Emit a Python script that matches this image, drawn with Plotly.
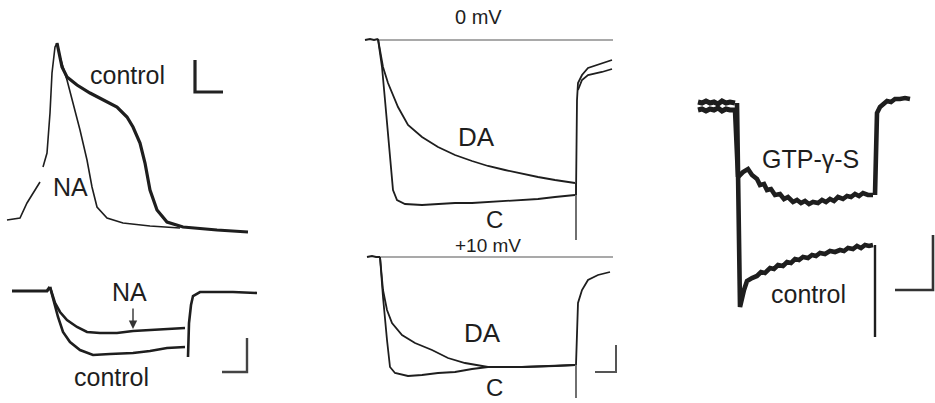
import plotly.graph_objects as go

INK = "#1e1e1e"

# ---------- Panel A: action potentials (top-left) ----------
ap_foot_x = [7, 20, 27, 33, 40, None, 43, 47, 50, 52, 55, 57]
ap_foot_y = [220, 218, 203, 193, 182, None, 167, 153, 113, 73, 47, 43]
ap_control_x = [57, 62, 67, 77, 90, 103, 117, 127, 133, 140, 145, 150, 157, 167, 183, 217, 248]
ap_control_y = [43, 67, 77, 85, 93, 100, 107, 117, 127, 143, 163, 190, 210, 222, 227, 230, 232]
ap_na_x = [57, 60, 67, 73, 80, 87, 92, 97, 107, 123, 150, 180]
ap_na_y = [43, 57, 80, 103, 130, 160, 187, 207, 218, 223, 226, 228]

# ---------- Panel B: currents (bottom-left) ----------
b_base_x = [12, 30, 47, 50]
b_base_y = [291, 291, 291, 287]
b_na_x = [50, 55, 60, 67, 77, 87, 100, 117, 133, 150, 167, 185]
b_na_y = [287, 303, 312, 320, 327, 332, 333, 333, 331, 330, 329, 328]
b_ctl_x = [50, 55, 58, 63, 70, 80, 93, 110, 133, 150, 167, 185]
b_ctl_y = [287, 305, 317, 332, 342, 350, 355, 354, 353, 351, 348, 347]
b_ret_x = [188, 189, 191, 193, 200, 217, 233, 257]
b_ret_y = [357, 323, 305, 296, 292, 292, 292, 293]

# ---------- Panel C: 0 mV (middle-top) ----------
c_ref_x = [377, 613]
c_ref_y = [40, 40]
c_base_x = [365, 370, 374, 378]
c_base_y = [40, 39, 40, 39]
c_c_x = [378, 382, 385, 388, 391, 393, 397, 405, 422, 438, 455, 472, 488, 505, 522, 538, 555, 575]
c_c_y = [39, 67, 100, 133, 167, 190, 200, 204, 205, 204, 203, 203, 202, 201, 200, 199, 197, 195]
c_da_x = [378, 383, 388, 398, 408, 422, 438, 455, 472, 488, 505, 522, 538, 555, 575]
c_da_y = [39, 67, 83, 107, 125, 137, 147, 155, 161, 166, 170, 174, 177, 180, 183]
c_step_x = [576, 576]
c_step_y = [183, 240]
c_ret1_x = [576, 577, 578, 582, 588, 602, 612]
c_ret1_y = [195, 100, 83, 75, 68, 63, 60]
c_ret2_x = [578, 582, 588, 602, 612]
c_ret2_y = [90, 80, 75, 72, 69]

# ---------- Panel D: +10 mV (middle-bottom) ----------
d_ref_x = [377, 613]
d_ref_y = [257, 257]
d_base_x = [367, 372, 376, 380]
d_base_y = [257, 256, 257, 257]
d_c_x = [380, 383, 387, 390, 395, 408, 422, 438, 455, 472, 488, 522, 555, 575]
d_c_y = [257, 297, 340, 367, 373, 376, 375, 373, 372, 369, 367, 367, 366, 365]
d_da_x = [380, 383, 387, 392, 402, 415, 432, 448, 465, 488, 522, 555, 575]
d_da_y = [257, 290, 310, 323, 335, 343, 350, 358, 363, 367, 367, 366, 365]
d_step_x = [576, 576]
d_step_y = [365, 398]
d_ret_x = [576, 577, 578, 582, 588, 598, 610]
d_ret_y = [365, 323, 303, 290, 280, 275, 272]

# ---------- Panel E: GTP-γ-S (right) ----------
e_base1_x = [698, 702, 706, 710, 714, 718, 722, 726, 730, 735]
e_base1_y = [102, 103, 101, 103, 102, 104, 101, 103, 102, 103]
e_base2_x = [698, 702, 706, 710, 714, 718, 722, 726, 730, 735]
e_base2_y = [110, 109, 111, 109, 110, 108, 111, 109, 110, 110]
e_gtp_x = [735, 738, 743, 748, 752, 757, 760, 764, 767, 771, 775, 780, 784, 788, 793, 797, 801, 805, 809, 813, 818, 822, 826, 830, 834, 838, 843, 847, 851, 855, 859, 863, 868, 873]
e_gtp_y = [110, 177, 172, 169, 175, 179, 185, 184, 190, 189, 195, 194, 199, 197, 202, 200, 203, 201, 204, 202, 203, 200, 202, 199, 201, 197, 199, 196, 197, 194, 196, 193, 195, 195]
e_ctl_x = [737, 740, 744, 747, 752, 757, 761, 765, 770, 774, 778, 783, 787, 791, 795, 799, 803, 808, 812, 816, 820, 825, 830, 835, 840, 844, 848, 853, 857, 861, 865, 869, 873]
e_ctl_y = [103, 307, 290, 281, 278, 276, 272, 273, 268, 269, 265, 266, 262, 263, 259, 260, 257, 258, 255, 256, 253, 254, 251, 252, 250, 251, 248, 249, 246, 248, 245, 246, 245]
e_step_x = [875, 875]
e_step_y = [245, 337]
e_ret_x = [875, 877, 880, 884, 887, 891, 895, 900, 905, 910]
e_ret_y = [195, 113, 107, 104, 101, 102, 99, 99, 98, 99]

# ---------- Scale bars ----------
sb_a_x = [195, 195, 223]
sb_a_y = [60, 92, 92]
sb_b_x = [222, 247, 247]
sb_b_y = [372, 372, 338]
sb_d_x = [595, 616, 616]
sb_d_y = [372, 372, 345]
sb_e_x = [895, 933, 933]
sb_e_y = [290, 290, 235]

traces = [
    (ap_foot_x, ap_foot_y, 1.6, INK),
    (ap_control_x, ap_control_y, 3.2, INK),
    (ap_na_x, ap_na_y, 1.6, INK),
    (b_base_x, b_base_y, 3.2, INK),
    (b_na_x, b_na_y, 2.6, INK),
    (b_ctl_x, b_ctl_y, 2.6, INK),
    (b_ret_x, b_ret_y, 2.6, INK),
    (c_ref_x, c_ref_y, 1.2, "#555555"),
    (c_base_x, c_base_y, 2.0, INK),
    (c_c_x, c_c_y, 1.8, INK),
    (c_da_x, c_da_y, 1.8, INK),
    (c_step_x, c_step_y, 1.4, "#333333"),
    (c_ret1_x, c_ret1_y, 1.8, INK),
    (c_ret2_x, c_ret2_y, 1.8, INK),
    (d_ref_x, d_ref_y, 1.2, "#555555"),
    (d_base_x, d_base_y, 2.0, INK),
    (d_c_x, d_c_y, 1.8, INK),
    (d_da_x, d_da_y, 1.8, INK),
    (d_step_x, d_step_y, 1.4, "#333333"),
    (d_ret_x, d_ret_y, 1.8, INK),
    (e_base1_x, e_base1_y, 5.0, INK),
    (e_base2_x, e_base2_y, 5.0, INK),
    (e_gtp_x, e_gtp_y, 4.6, INK),
    (e_ctl_x, e_ctl_y, 4.6, INK),
    (e_step_x, e_step_y, 2.4, INK),
    (e_ret_x, e_ret_y, 4.6, INK),
    (sb_a_x, sb_a_y, 3.2, "#222222"),
    (sb_b_x, sb_b_y, 2.4, "#444444"),
    (sb_d_x, sb_d_y, 2.0, "#555555"),
    (sb_e_x, sb_e_y, 2.6, "#333333"),
]

fig = go.Figure()
for xs, ys, w, col in traces:
    fig.add_trace(go.Scatter(x=xs, y=ys, mode="lines", connectgaps=False,
                             line=dict(color=col, width=w), hoverinfo="skip",
                             showlegend=False))

label_text = ["control", "NA", "NA", "control", "0 mV", "DA", "C", "+10 mV", "DA", "C", "GTP-γ-S", "control"]
label_x = [127, 70, 129, 111, 478, 476, 494, 488, 482, 494, 810, 808]
label_y = [75, 187, 292, 377, 17, 137, 219, 245, 333, 387, 159, 294]
label_size = [25, 25, 25, 25, 20, 26, 24, 19, 26, 24, 25, 25]

for t, x, y, s in zip(label_text, label_x, label_y, label_size):
    fig.add_annotation(x=x, y=y, text=t, showarrow=False, borderpad=0,
                       font=dict(family="Liberation Sans, Arial, sans-serif", size=s, color=INK),
                       xanchor="center", yanchor="middle")

# arrow pointing to the NA trace
arrow_x = [133]
arrow_y = [329]
fig.add_annotation(x=arrow_x[0], y=arrow_y[0], ax=arrow_x[0], ay=arrow_y[0] - 22,
                   xref="x", yref="y", axref="x", ayref="y", text="", showarrow=True,
                   arrowhead=2, arrowsize=1.2, arrowwidth=1.4, arrowcolor="#333333")

fig.update_layout(
    width=935, height=403,
    margin=dict(l=0, r=0, t=0, b=0),
    paper_bgcolor="white", plot_bgcolor="white",
    xaxis=dict(range=[0, 935], visible=False, fixedrange=True),
    yaxis=dict(range=[403, 0], visible=False, fixedrange=True),
)

fig.write_html("out.html", config={"displayModeBar": False},
               post_script="document.body.style.margin='0';document.body.style.overflow='hidden';")
